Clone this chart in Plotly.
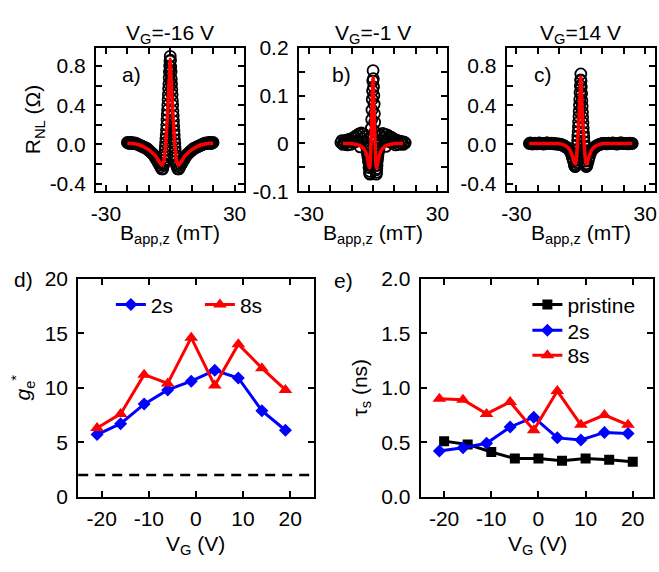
import plotly.graph_objects as go

W, H = 659, 572
FONT = "Liberation Sans, Arial, Helvetica, sans-serif"

# ---------------- panel a : V_G = -16 V (measured points) ----------------
B_a = [-20, -19.5, -19, -18.5, -18, -17.5, -17, -16.5, -16, -15.5, -15, -14.5, -14, -13.5, -13,
       -12.5, -12, -11.5, -11, -10.5, -10, -9.5, -9, -8.5, -8, -7.5, -7, -6.5, -6, -5.5, -5, -4.5,
       -4, -3.5, -3,
       -2.875, -2.75, -2.625, -2.5, -2.375, -2.25, -2.125, -2, -1.875, -1.75, -1.625, -1.5, -1.375,
       -1.25, -1.125, -1, -0.875, -0.75, -0.625, -0.5, -0.375, -0.25, -0.125, 0,
       0.125, 0.25, 0.375, 0.5, 0.625, 0.75, 0.875, 1, 1.125, 1.25, 1.375, 1.5, 1.625, 1.75, 1.875,
       2, 2.125, 2.25, 2.375, 2.5, 2.625, 2.75, 2.875,
       3, 3.5, 4, 4.5, 5, 5.5, 6, 6.5, 7, 7.5, 8, 8.5, 9, 9.5, 10, 10.5, 11, 11.5, 12, 12.5, 13,
       13.5, 14, 14.5, 15, 15.5, 16, 16.5, 17, 17.5, 18, 18.5, 19, 19.5, 20]
R_a = [0.02, 0.015, 0.01, 0.02, 0.02, 0.01, 0.01, 0.015, 0.01, 0.005, 0.0, -0.005, -0.01, -0.015,
       -0.02, -0.025, -0.03, -0.035, -0.04, -0.05, -0.06, -0.07, -0.08, -0.09, -0.10, -0.115, -0.13,
       -0.15, -0.17, -0.19, -0.21, -0.23, -0.25, -0.25, -0.21,
       -0.19, -0.16, -0.13, -0.10, -0.06, -0.02, 0.02, 0.06, 0.10, 0.15, 0.20, 0.25, 0.30, 0.35,
       0.40, 0.46, 0.51, 0.57, 0.62, 0.68, 0.74, 0.80, 0.85, 0.90,
       0.86, 0.79, 0.74, 0.67, 0.62, 0.56, 0.51, 0.45, 0.40, 0.34, 0.29, 0.24, 0.19, 0.14, 0.10,
       0.05, 0.01, -0.03, -0.07, -0.11, -0.14, -0.17, -0.20,
       -0.22, -0.25, -0.25, -0.23, -0.21, -0.19, -0.17, -0.15, -0.13, -0.115, -0.10, -0.09, -0.08,
       -0.07, -0.06, -0.05, -0.04, -0.035, -0.03, -0.025, -0.02, -0.015, -0.01, -0.005, 0.0, 0.005,
       0.01, 0.015, 0.01, 0.01, 0.02, 0.02, 0.01, 0.015, 0.02]
# fit curve (red)
B_a_fit = [-20, -19, -18, -17, -16, -15, -14, -13, -12, -11, -10, -9, -8, -7, -6, -5.5, -5, -4.5,
           -4, -3.5, -3, -2.5, -2.25, -2, -1.75, -1.5, -1.25, -1, -0.75, -0.5, -0.25, 0, 0.25, 0.5,
           0.75, 1, 1.25, 1.5, 1.75, 2, 2.25, 2.5, 3, 3.5, 4, 4.5, 5, 5.5, 6, 7, 8, 9, 10, 11, 12,
           13, 14, 15, 16, 17, 18, 19, 20]
FIT_a = [0.012, 0.012, 0.010, 0.008, 0.004, 0.0, -0.008, -0.017, -0.028, -0.040, -0.055, -0.072,
         -0.092, -0.115, -0.145, -0.162, -0.180, -0.196, -0.208, -0.205, -0.170, -0.090, -0.030,
         0.050, 0.130, 0.220, 0.320, 0.420, 0.530, 0.650, 0.770, 0.870, 0.770, 0.650, 0.530, 0.420,
         0.320, 0.220, 0.130, 0.050, -0.030, -0.090, -0.170, -0.205, -0.208, -0.196, -0.180, -0.162,
         -0.145, -0.115, -0.092, -0.072, -0.055, -0.040, -0.028, -0.017, -0.008, 0.0, 0.004, 0.008,
         0.010, 0.012, 0.012]

# ---------------- panel b : V_G = -1 V ----------------
B_b = [-15, -14.5, -14, -13.5, -13, -12.5, -12, -11.5, -11, -10.5, -10, -9.5, -9, -8.5, -8, -7.5,
       -7, -6.5, -6, -5.5, -5, -4.5, -4, -3.5, -3,
       -2.875, -2.75, -2.625, -2.5, -2.375, -2.25, -2.125, -2, -1.875, -1.75, -1.625, -1.5, -1.375,
       -1.25, -1.125, -1, -0.875, -0.75, -0.625, -0.5, -0.375, -0.25, -0.125, 0,
       0.125, 0.25, 0.375, 0.5, 0.625, 0.75, 0.875, 1, 1.125, 1.25, 1.375, 1.5, 1.625, 1.75, 1.875,
       2, 2.125, 2.25, 2.375, 2.5, 2.625, 2.75, 2.875,
       3, 3.5, 4, 4.5, 5, 5.5, 6, 6.5, 7, 7.5, 8, 8.5, 9, 9.5, 10, 10.5, 11, 11.5, 12, 12.5, 13,
       13.5, 14, 14.5, 15]
R_b = [0.002, 0.006, -0.002, 0.004, 0.0, 0.007, -0.003, 0.005, 0.009, -0.002, 0.006, 0.011, 0.002,
       0.014, 0.004, 0.017, 0.006, 0.020, -0.007, 0.022, 0.010, 0.020, 0.004, 0.015, -0.006,
       -0.010, -0.018, -0.012, -0.022, -0.028, -0.025, -0.038, -0.034, -0.050, -0.046, -0.062,
       -0.058, -0.064, -0.042, -0.030, -0.005, 0.012, 0.032, 0.050, 0.070, 0.092, 0.110, 0.130,
       0.152,
       0.135, 0.118, 0.100, 0.082, 0.062, 0.044, 0.024, 0.004, -0.018, -0.038, -0.055, -0.064,
       -0.060, -0.052, -0.046, -0.036, -0.030, -0.026, -0.020, -0.016, -0.010, -0.012, -0.004,
       -0.002, 0.016, 0.006, 0.021, 0.012, 0.019, -0.006, 0.018, 0.009, 0.015, 0.003, 0.013, 0.001,
       0.010, 0.005, -0.003, 0.007, 0.003, -0.002, 0.005, 0.001, 0.004, -0.002, 0.003, 0.001]
B_b_fit = [-14, -13, -12, -11, -10, -9, -8, -7, -6, -5, -4, -3.5, -3, -2.5, -2, -1.75, -1.5, -1.25,
           -1, -0.75, -0.5, -0.25, 0, 0.25, 0.5, 0.75, 1, 1.25, 1.5, 1.75, 2, 2.5, 3, 3.5, 4, 5, 6,
           7, 8, 9, 10, 11, 12, 13, 14]
FIT_b = [0.0, 0.0, 0.0, 0.0, 0.0, -0.001, -0.002, -0.003, -0.005, -0.008, -0.013, -0.017, -0.024,
         -0.033, -0.045, -0.050, -0.050, -0.035, -0.005, 0.030, 0.065, 0.105, 0.138, 0.105, 0.065,
         0.030, -0.005, -0.035, -0.050, -0.050, -0.045, -0.033, -0.024, -0.017, -0.013, -0.008,
         -0.005, -0.003, -0.002, -0.001, 0.0, 0.0, 0.0, 0.0, 0.0]

# ---------------- panel c : V_G = 14 V ----------------
B_c = [-24, -23.5, -23, -22.5, -22, -21.5, -21, -20.5, -20, -19.5, -19, -18.5, -18, -17.5, -17,
       -16.5, -16, -15.5, -15, -14.5, -14, -13.5, -13, -12.5, -12, -11.5, -11, -10.5, -10, -9.5,
       -9, -8.5, -8, -7.5, -7, -6.5, -6, -5.5, -5, -4.5, -4, -3.5, -3,
       -2.875, -2.75, -2.625, -2.5, -2.375, -2.25, -2.125, -2, -1.875, -1.75, -1.625, -1.5, -1.375,
       -1.25, -1.125, -1, -0.875, -0.75, -0.625, -0.5, -0.375, -0.25, -0.125, 0,
       0.125, 0.25, 0.375, 0.5, 0.625, 0.75, 0.875, 1, 1.125, 1.25, 1.375, 1.5, 1.625, 1.75, 1.875,
       2, 2.125, 2.25, 2.375, 2.5, 2.625, 2.75, 2.875,
       3, 3.5, 4, 4.5, 5, 5.5, 6, 6.5, 7, 7.5, 8, 8.5, 9, 9.5, 10, 10.5, 11, 11.5, 12, 12.5, 13,
       13.5, 14, 14.5, 15, 15.5, 16, 16.5, 17, 17.5, 18, 18.5, 19, 19.5, 20, 20.5, 21, 21.5, 22,
       22.5, 23, 23.5, 24]
R_c = [0.010, 0.015, 0.012, 0.005, 0.008, 0.014, 0.012, 0.006, 0.010, 0.016, 0.014, 0.008, 0.010,
       0.005, 0.006, 0.012, 0.015, 0.017, 0.010, 0.008, 0.012, 0.014, 0.010, 0.006, 0.008, 0.005,
       0.004, 0.006, 0.004, 0.0, -0.003, -0.007, -0.012, -0.018, -0.025, -0.032, -0.040, -0.052,
       -0.070, -0.095, -0.130, -0.170, -0.205,
       -0.215, -0.222, -0.225, -0.222, -0.205, -0.185, -0.160, -0.130, -0.090, -0.050, -0.005,
       0.040, 0.085, 0.130, 0.180, 0.230, 0.285, 0.340, 0.400, 0.460, 0.530, 0.600, 0.660, 0.720,
       0.650, 0.590, 0.520, 0.450, 0.390, 0.330, 0.275, 0.220, 0.170, 0.120, 0.075, 0.030, -0.015,
       -0.060, -0.100, -0.140, -0.170, -0.200, -0.215, -0.225, -0.222, -0.215, -0.208,
       -0.200, -0.165, -0.125, -0.090, -0.065, -0.048, -0.036, -0.027, -0.019, -0.012, -0.006,
       -0.002, 0.002, 0.006, 0.008, 0.011, 0.012, 0.009, 0.006, 0.010, 0.014, 0.012, 0.009, 0.013,
       0.015, 0.012, 0.010, 0.006, 0.005, 0.009, 0.013, 0.016, 0.016, 0.012, 0.009, 0.011, 0.012,
       0.008, 0.006, 0.010, 0.014, 0.012, 0.010]
B_c_fit = [-24, -22, -20, -18, -16, -14, -12, -11, -10, -9, -8, -7, -6, -5.5, -5, -4.5, -4, -3.5,
           -3, -2.5, -2.25, -2, -1.75, -1.5, -1.25, -1, -0.75, -0.5, -0.25, 0, 0.25, 0.5, 0.75, 1,
           1.25, 1.5, 1.75, 2, 2.25, 2.5, 3, 3.5, 4, 4.5, 5, 5.5, 6, 7, 8, 9, 10, 11, 12, 14, 16,
           18, 20, 22, 24]
FIT_c = [0.010, 0.010, 0.010, 0.010, 0.010, 0.010, 0.010, 0.010, 0.008, 0.003, -0.005, -0.016,
         -0.032, -0.044, -0.060, -0.085, -0.115, -0.150, -0.185, -0.200, -0.175, -0.120, -0.050,
         0.030, 0.120, 0.210, 0.320, 0.440, 0.570, 0.690, 0.570, 0.440, 0.320, 0.210, 0.120, 0.030,
         -0.050, -0.120, -0.175, -0.200, -0.185, -0.150, -0.115, -0.085, -0.060, -0.044, -0.032,
         -0.016, -0.005, 0.003, 0.008, 0.010, 0.010, 0.010, 0.010, 0.010, 0.010, 0.010, 0.010]

# ---------------- panel d : g_e* vs V_G ----------------
VG_s = [-21, -16, -11, -6, -1, 4, 9, 14, 19]
g_2s = [5.7, 6.7, 8.5, 9.8, 10.6, 11.6, 10.9, 7.9, 6.1]
g_8s = [6.3, 7.6, 11.2, 10.4, 14.6, 10.2, 14.0, 11.8, 9.8]
g_free = 2.0

# ---------------- panel e : tau_s vs V_G ----------------
VG_p = [-20, -15, -10, -5, 0, 5, 10, 15, 20]
tau_pristine = [0.51, 0.48, 0.41, 0.35, 0.35, 0.33, 0.35, 0.34, 0.32]
tau_2s = [0.42, 0.45, 0.49, 0.64, 0.73, 0.54, 0.52, 0.59, 0.58]
tau_8s = [0.90, 0.89, 0.76, 0.87, 0.61, 0.97, 0.66, 0.75, 0.66]

BLUE, RED, BLACK = "#0000ff", "#ff0000", "#000000"

fig = go.Figure()

# top-row panels: data circles + red fit
for i, (bx, by, fx, fy) in enumerate([(B_a, R_a, B_a_fit, FIT_a), (B_b, R_b, B_b_fit, FIT_b),
                                      (B_c, R_c, B_c_fit, FIT_c)], start=1):
    xa = "x" if i == 1 else f"x{i}"
    ya = "y" if i == 1 else f"y{i}"
    fig.add_trace(go.Scatter(x=bx, y=by, mode="markers", xaxis=xa, yaxis=ya, showlegend=False,
                             marker=dict(symbol="circle-open", size=11, color=BLACK,
                                         line=dict(width=1.8, color=BLACK))))
    fig.add_trace(go.Scatter(x=fx, y=fy, mode="lines", xaxis=xa, yaxis=ya, showlegend=False,
                             line=dict(color=RED, width=3.5, shape="spline", smoothing=0.6)))

LEGFONT = dict(size=21, color=BLACK, family=FONT)

# panel d
fig.add_trace(go.Scatter(x=VG_s, y=g_2s, mode="lines+markers", name="2s", xaxis="x4", yaxis="y4",
                         legend="legend", line=dict(color=BLUE, width=3),
                         marker=dict(symbol="diamond", size=10, color=BLUE)))
fig.add_trace(go.Scatter(x=VG_s, y=g_8s, mode="lines+markers", name="8s", xaxis="x4", yaxis="y4",
                         legend="legend2", line=dict(color=RED, width=3),
                         marker=dict(symbol="triangle-up", size=12, color=RED)))
fig.add_shape(type="line", xref="x4 domain", yref="y4", x0=0, x1=1, y0=g_free, y1=g_free,
              line=dict(color=BLACK, width=2.5, dash="10px,7px"))

# panel e
fig.add_trace(go.Scatter(x=VG_p, y=tau_pristine, mode="lines+markers", name="pristine", xaxis="x5",
                         yaxis="y5", legend="legend3", line=dict(color=BLACK, width=3),
                         marker=dict(symbol="square", size=10, color=BLACK)))
fig.add_trace(go.Scatter(x=VG_s, y=tau_2s, mode="lines+markers", name="2s", xaxis="x5", yaxis="y5",
                         legend="legend4", line=dict(color=BLUE, width=3),
                         marker=dict(symbol="diamond", size=10, color=BLUE)))
fig.add_trace(go.Scatter(x=VG_s, y=tau_8s, mode="lines+markers", name="8s", xaxis="x5", yaxis="y5",
                         legend="legend5", line=dict(color=RED, width=3),
                         marker=dict(symbol="triangle-up", size=12, color=RED)))


def px_x(a, b):
    return [a / W, b / W]


def px_y(top, bottom):
    return [1 - bottom / H, 1 - top / H]


def axis(domain, rng, tickvals, ticktext, anchor, title=None, standoff=None, label_off=0):
    d = dict(domain=domain, range=rng, anchor=anchor, tickmode="array", tickvals=tickvals,
             ticktext=ticktext, showline=True, linecolor=BLACK, linewidth=2, mirror="ticks",
             ticks="inside", ticklen=6, tickwidth=2, tickcolor=BLACK, showgrid=False,
             zeroline=False, tickfont=dict(size=21, color=BLACK, family=FONT),
             ticklabelstandoff=label_off)
    if title is not None:
        d["title"] = dict(text=title, font=dict(size=21, color=BLACK, family=FONT),
                          standoff=standoff)
    return d


def leg(x, y):
    return dict(orientation="v", x=x / W, xanchor="left", y=1 - y / H, yanchor="middle",
                bgcolor="rgba(0,0,0,0)", font=LEGFONT, itemwidth=30)


xt_top = [-30, -20, -10, 0, 10, 20, 30]
xl_top = ["-30", "", "", "", "", "", "30"]
yt_ac = [-0.4, -0.2, 0.0, 0.2, 0.4, 0.6, 0.8]
yl_ac = ["-0.4", "", "0.0", "", "0.4", "", "0.8"]
yt_b = [-0.1, -0.05, 0.0, 0.05, 0.1, 0.15, 0.2]
yl_b = ["-0.1", "", "0", "", "0.1", "", "0.2"]
xt_bot = [-20, -10, 0, 10, 20]
xl_bot = ["-20", "-10", "0", "10", "20"]

top_y = px_y(37, 187)
bot_y = px_y(278, 505)

fig.update_layout(
    width=W, height=H, margin=dict(l=0, r=0, t=0, b=0),
    paper_bgcolor="white", plot_bgcolor="white",
    font=dict(family=FONT, size=21, color=BLACK),
    xaxis=axis(px_x(92, 242), [-34.6, 34.6], xt_top, xl_top, "y", None, None, 2),
    yaxis=axis(top_y, [-0.48, 0.99], yt_ac, yl_ac, "x", "R<sub>NL</sub> (Ω)", 3, 4),
    xaxis2=axis(px_x(297, 447), [-34.6, 34.6], xt_top, xl_top, "y2", None, None, 2),
    yaxis2=axis(top_y, [-0.1, 0.2], yt_b, yl_b, "x2", None, None, 4),
    xaxis3=axis(px_x(507, 657), [-34.6, 34.6], xt_top, xl_top, "y3", None, None, 2),
    yaxis3=axis(top_y, [-0.48, 0.99], yt_ac, yl_ac, "x3", None, None, 4),
    xaxis4=axis(px_x(74, 312), [-25, 25], xt_bot, xl_bot, "y4", None, None, 2),
    yaxis4=axis(bot_y, [0, 20], [0, 5, 10, 15, 20], ["0", "5", "10", "15", "20"], "x4",
                "<i>g</i><sub>e</sub><sup>*</sup>", 8, 4),
    xaxis5=axis(px_x(420, 655), [-25, 24.3], xt_bot, xl_bot, "y5", None, None, 2),
    yaxis5=axis(bot_y, [0, 2], [0, 0.5, 1.0, 1.5, 2.0], ["0.0", "0.5", "1.0", "1.5", "2.0"], "x5",
                "τ<sub>s</sub> (ns)", 8, 4),
    legend=leg(107, 305),
    legend2=leg(197, 305),
    legend3=leg(528, 305),
    legend4=leg(528, 332),
    legend5=leg(528, 358),
)

annots = [
    (167, 23, "V<sub>G</sub>=-16 V"), (372, 23, "V<sub>G</sub>=-1 V"), (582, 23, "V<sub>G</sub>=14 V"),
    (167, 231, "B<sub>app,z</sub> (mT)"), (372, 231, "B<sub>app,z</sub> (mT)"),
    (582, 231, "B<sub>app,z</sub> (mT)"),
    (193, 555, "V<sub>G</sub> (V)"), (538, 555, "V<sub>G</sub> (V)"),
    (128, 65, "a)"), (340, 65, "b)"), (544, 65, "c)"), (19, 279, "d)"), (342, 280, "e)"),
]
for x, y, t in annots:
    fig.add_annotation(x=x / W, y=1 - y / H, xref="paper", yref="paper", text=t, showarrow=False,
                       xanchor="center", yanchor="middle", font=dict(size=21, color=BLACK, family=FONT))

fig.write_html("out.html", post_script="document.body.style.margin='0';",
               config={"displayModeBar": False})
